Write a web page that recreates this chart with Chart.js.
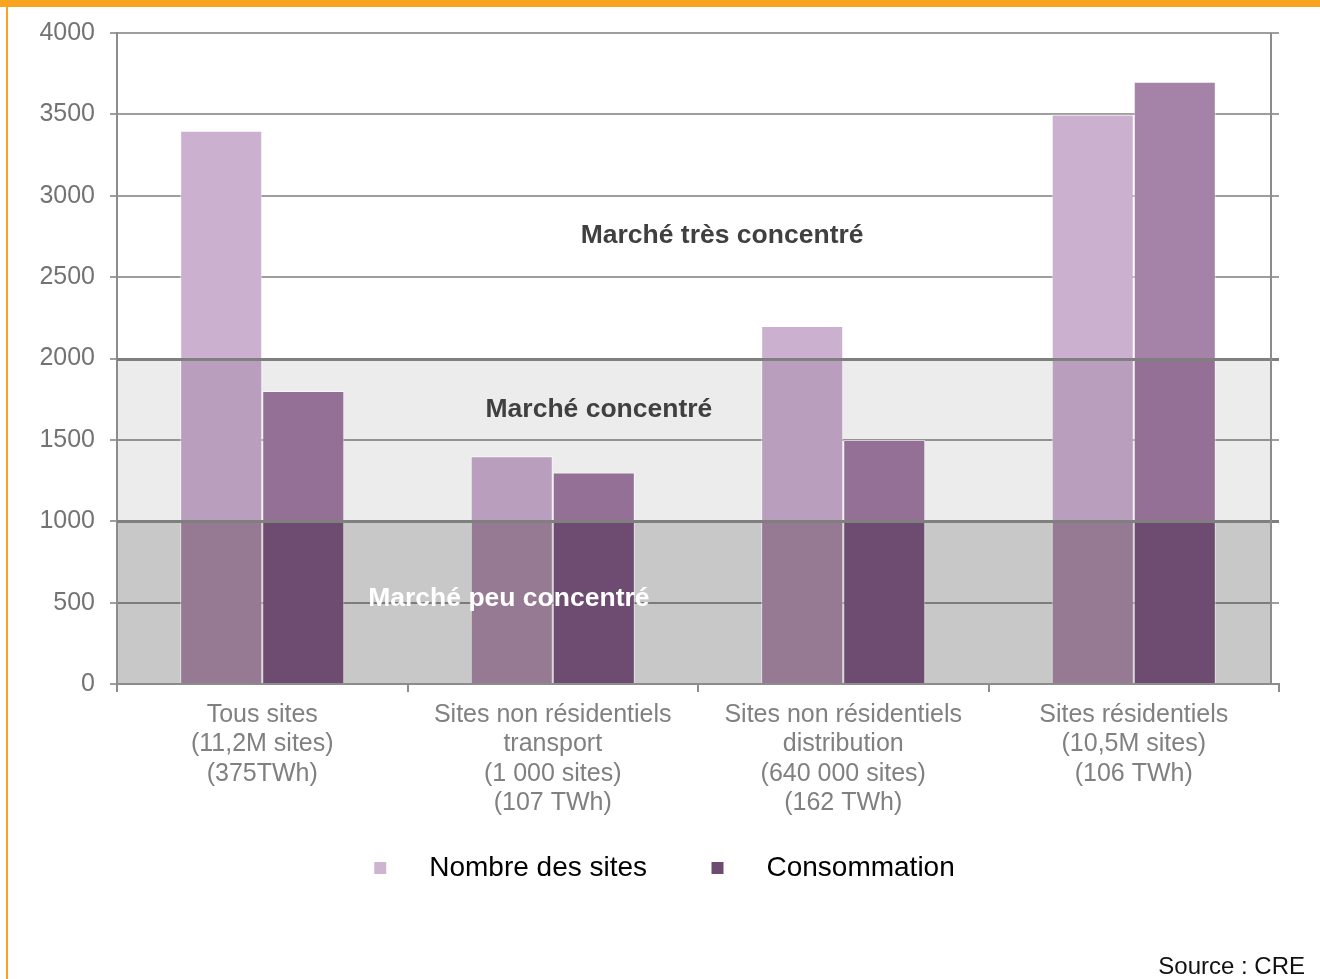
<!DOCTYPE html>
<html>
<head>
<meta charset="utf-8">
<script src="https://cdn.jsdelivr.net/npm/chart.js@4.4.0/dist/chart.umd.min.js"></script>
<style>
    html, body { margin: 0; padding: 0; background: #fff; }
    #wrap { position: relative; width: 1320px; height: 979px; overflow: hidden; }
    #topBar { position: absolute; left: 0; top: 0; width: 1320px; height: 7px; background: #f8a41e; }
    #leftBar { position: absolute; left: 6px; top: 0; width: 2px; height: 979px; background: #f8a41e; }
    canvas { position: absolute; left: 0; top: 0; }
</style>
</head>
<body>
<div id="wrap">
    <canvas id="chart" width="1320" height="979"></canvas>
    <div id="topBar"></div>
    <div id="leftBar"></div>
</div>
<script>
const categories = [
    ['Tous sites', '(11,2M sites)', '(375TWh)'],
    ['Sites non résidentiels', 'transport', '(1 000 sites)', '(107 TWh)'],
    ['Sites non résidentiels', 'distribution', '(640 000 sites)', '(162 TWh)'],
    ['Sites résidentiels', '(10,5M sites)', '(106 TWh)']
];
const nombreSites = [3400, 1400, 2200, 3500];
const consommation = [1800, 1300, 1500, 3700];
const yTicks = [0, 500, 1000, 1500, 2000, 2500, 3000, 3500, 4000];
const bandLimits = [1000, 2000];
const bandLabels = ['Marché peu concentré', 'Marché concentré', 'Marché très concentré'];
const seriesNames = ['Nombre des sites', 'Consommation'];

// colours of each series inside the low / middle / high band
const lightShades = ['#967a93', '#b99ebd', '#cbb1cf'];
const darkShades = ['#6e4b70', '#946f96', '#a583a8'];

const FONT = "'Liberation Sans', Arial, sans-serif";

function bandGradient(shades) {
    return (c) => {
        const chart = c.chart;
        const y = chart.scales.y;
        if (!chart.chartArea || !y) return shades[2];
        const y0 = y.getPixelForValue(y.min);
        const yTop = y.getPixelForValue(y.max);
        const s1 = (y0 - y.getPixelForValue(bandLimits[0])) / (y0 - yTop);
        const s2 = (y0 - y.getPixelForValue(bandLimits[1])) / (y0 - yTop);
        const g = chart.ctx.createLinearGradient(0, y0, 0, yTop);
        g.addColorStop(0, shades[0]);
        g.addColorStop(s1, shades[0]);
        g.addColorStop(s1, shades[1]);
        g.addColorStop(s2, shades[1]);
        g.addColorStop(s2, shades[2]);
        g.addColorStop(1, shades[2]);
        return g;
    };
}

const bandsPlugin = {
    id: 'bands',
    beforeDraw(chart) {
        const { ctx, chartArea, scales } = chart;
        const y = scales.y;
        const right = chartArea.right - 8;
        ctx.save();
        ctx.fillStyle = '#c8c8c8';
        ctx.fillRect(chartArea.left, y.getPixelForValue(bandLimits[0]), right - chartArea.left,
            y.getPixelForValue(0) - y.getPixelForValue(bandLimits[0]));
        ctx.fillStyle = '#ececec';
        ctx.fillRect(chartArea.left, y.getPixelForValue(bandLimits[1]), right - chartArea.left,
            y.getPixelForValue(bandLimits[0]) - y.getPixelForValue(bandLimits[1]));
        ctx.restore();
    },
    afterDatasetsDraw(chart) {
        const { ctx, chartArea, scales } = chart;
        const x = scales.x, y = scales.y;
        ctx.save();
        // band borders across the bars
        ctx.strokeStyle = '#7f7f7f';
        ctx.lineWidth = 3;
        bandLimits.forEach(v => {
            const py = Math.round(y.getPixelForValue(v)) + 0.5;
            ctx.beginPath();
            ctx.moveTo(chartArea.left, py);
            ctx.lineTo(chartArea.right, py);
            ctx.stroke();
        });
        // right frame line
        ctx.strokeStyle = '#8c8c8c';
        ctx.lineWidth = 2;
        ctx.beginPath();
        ctx.moveTo(chartArea.right - 8, chartArea.top);
        ctx.lineTo(chartArea.right - 8, chartArea.bottom);
        ctx.stroke();

        // band names
        const spots = [
            { at: 0.849, v: 523, color: '#ffffff' },
            { at: 1.159, v: 1684, color: '#404040' },
            { at: 1.583, v: 2753, color: '#404040' }
        ];
        ctx.font = 'bold 26.5px ' + FONT;
        ctx.textAlign = 'center';
        ctx.textBaseline = 'middle';
        spots.forEach((s, i) => {
            ctx.fillStyle = s.color;
            ctx.fillText(bandLabels[i], x.getPixelForValue(s.at), y.getPixelForValue(s.v));
        });
        ctx.restore();
    }
};

new Chart(document.getElementById('chart'), {
    type: 'bar',
    data: {
        labels: categories,
        datasets: [{
            label: seriesNames[0],
            data: nombreSites,
            backgroundColor: bandGradient(lightShades),
            borderColor: 'rgba(255, 255, 255, 0.55)',
            borderWidth: 1,
            categoryPercentage: 0.565,
            barPercentage: 1
        }, {
            label: seriesNames[1],
            data: consommation,
            backgroundColor: bandGradient(darkShades),
            borderColor: 'rgba(255, 255, 255, 0.55)',
            borderWidth: 1,
            categoryPercentage: 0.565,
            barPercentage: 1
        }]
    },
    options: {
        responsive: false,
        animation: false,
        layout: {
            padding: { left: 24, right: 15, top: 33, bottom: 0 }
        },
        plugins: {
            tooltip: { enabled: false },
            legend: {
                position: 'bottom',
                labels: {
                    color: '#111111',
                    font: { family: FONT, size: 28 },
                    boxWidth: 12,
                    boxHeight: 12,
                    padding: 10,
                    generateLabels: (chart) => [
                        { text: '   \u2009' + seriesNames[0] + '       ', fillStyle: '#cdb5d0', strokeStyle: '#cdb5d0', lineWidth: 0, datasetIndex: 0, hidden: false },
                        { text: '   \u2009' + seriesNames[1], fillStyle: '#6e4b70', strokeStyle: '#6e4b70', lineWidth: 0, datasetIndex: 1, hidden: false }
                    ]
                }
            },
            title: {
                display: true,
                text: 'Source : CRE',
                position: 'bottom',
                align: 'end',
                color: '#111111',
                font: { family: FONT, size: 24, weight: 'normal', lineHeight: 1 },
                padding: { top: 63, bottom: 0 }
            }
        },
        scales: {
            x: {
                grid: {
                    display: true,
                    drawOnChartArea: false,
                    drawTicks: true,
                    tickLength: 8,
                    color: '#8c8c8c',
                    lineWidth: 2,
                    offset: true
                },
                border: { color: '#8c8c8c', width: 2 },
                ticks: {
                    color: '#808080',
                    font: { family: FONT, size: 25, lineHeight: 1.18 },
                    padding: 8,
                    maxRotation: 0,
                    autoSkip: false
                },
                afterFit: (s) => { s.height = 160; }
            },
            y: {
                min: yTicks[0],
                max: yTicks[yTicks.length - 1],
                afterBuildTicks: (s) => { s.ticks = yTicks.map(v => ({ value: v })); },
                grid: {
                    color: 'rgba(0, 0, 0, 0.38)',
                    lineWidth: 2,
                    tickLength: 7
                },
                border: { color: '#8c8c8c', width: 2 },
                ticks: {
                    color: '#737373',
                    font: { family: FONT, size: 25 },
                    padding: 15,
                    callback: (v) => String(v)
                },
                afterFit: (s) => { s.width = 93; }
            },
            y2: {
                position: 'right',
                min: 0,
                max: 4000,
                grid: { display: false },
                border: { display: false },
                ticks: { display: false },
                afterFit: (s) => { s.width = 26; }
            }
        }
    },
    plugins: [bandsPlugin]
});
</script>
</body>
</html>
